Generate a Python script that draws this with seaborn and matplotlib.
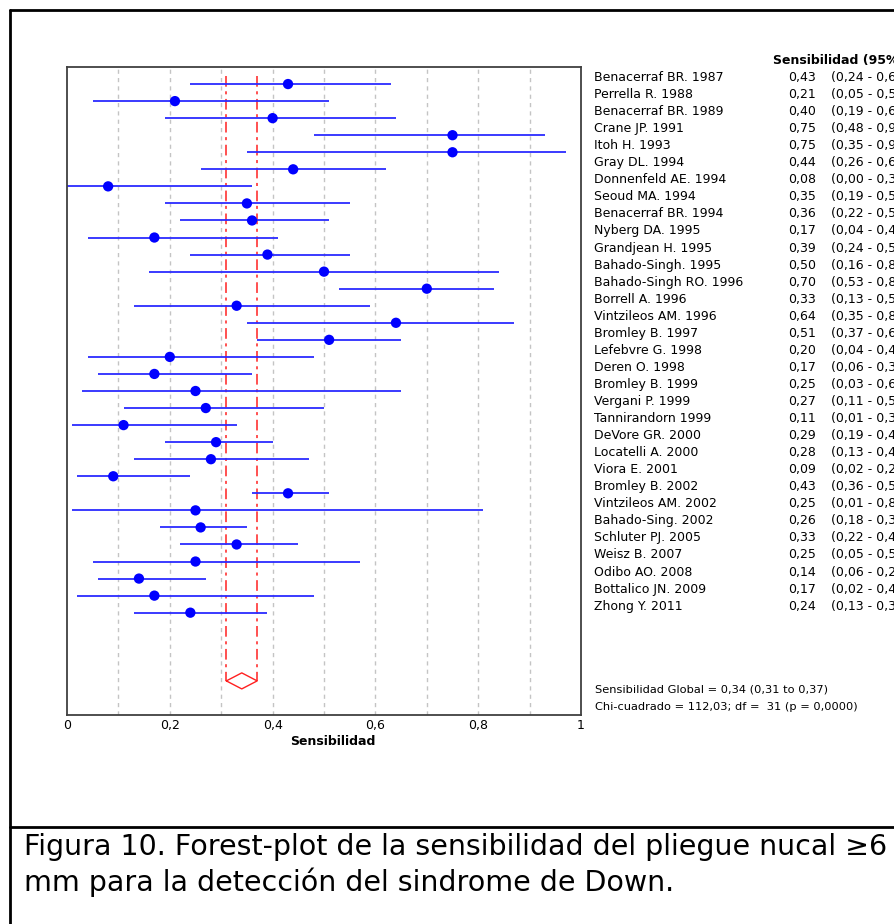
import matplotlib
matplotlib.use("Agg")
import matplotlib.pyplot as plt
import matplotlib.transforms as mtransforms
from matplotlib.lines import Line2D
import seaborn as sns
import pandas as pd

studies = ["Benacerraf BR. 1987", "Perrella R. 1988", "Benacerraf BR. 1989", "Crane JP. 1991",
           "Itoh H. 1993", "Gray DL. 1994", "Donnenfeld AE. 1994", "Seoud MA. 1994",
           "Benacerraf BR. 1994", "Nyberg DA. 1995", "Grandjean H. 1995", "Bahado-Singh. 1995",
           "Bahado-Singh RO. 1996", "Borrell A. 1996", "Vintzileos AM. 1996", "Bromley B. 1997",
           "Lefebvre G. 1998", "Deren O. 1998", "Bromley B. 1999", "Vergani P. 1999",
           "Tannirandorn 1999", "DeVore GR. 2000", "Locatelli A. 2000", "Viora E. 2001",
           "Bromley B. 2002", "Vintzileos AM. 2002", "Bahado-Sing. 2002", "Schluter PJ. 2005",
           "Weisz B. 2007", "Odibo AO. 2008", "Bottalico JN. 2009", "Zhong Y. 2011"]
sens = [0.43, 0.21, 0.40, 0.75, 0.75, 0.44, 0.08, 0.35, 0.36, 0.17, 0.39, 0.50, 0.70, 0.33,
        0.64, 0.51, 0.20, 0.17, 0.25, 0.27, 0.11, 0.29, 0.28, 0.09, 0.43, 0.25, 0.26, 0.33,
        0.25, 0.14, 0.17, 0.24]
ci_low = [0.24, 0.05, 0.19, 0.48, 0.35, 0.26, 0.00, 0.19, 0.22, 0.04, 0.24, 0.16, 0.53, 0.13,
          0.35, 0.37, 0.04, 0.06, 0.03, 0.11, 0.01, 0.19, 0.13, 0.02, 0.36, 0.01, 0.18, 0.22,
          0.05, 0.06, 0.02, 0.13]
ci_high = [0.63, 0.51, 0.64, 0.93, 0.97, 0.62, 0.36, 0.55, 0.51, 0.41, 0.55, 0.84, 0.83, 0.59,
           0.87, 0.65, 0.48, 0.36, 0.65, 0.50, 0.33, 0.40, 0.47, 0.24, 0.51, 0.81, 0.35, 0.45,
           0.57, 0.27, 0.48, 0.39]
pooled = [0.34, 0.31, 0.37]  # estimate, low, high
xtick_vals = [0, 0.2, 0.4, 0.6, 0.8, 1.0]
xtick_labels = ["0", "0,2", "0,4", "0,6", "0,8", "1"]
header = "Sensibilidad (95% CI)"
footer1 = "Sensibilidad Global = 0,34 (0,31 to 0,37)"
footer2 = "Chi-cuadrado = 112,03; df =  31 (p = 0,0000)"
caption1 = "Figura 10. Forest-plot de la sensibilidad del pliegue nucal \u22656"
caption2 = "mm para la detección del sindrome de Down."

def fmt(v):
    return f"{v:.2f}".replace(".", ",")

df = pd.DataFrame({"study": studies, "sens": sens, "lo": ci_low, "hi": ci_high})
df["row"] = range(len(df))

sns.set_theme(style="white")
plt.rcParams["font.family"] = ["DejaVu Sans"]
plt.rcParams["text.color"] = "black"
plt.rcParams["axes.labelcolor"] = "black"
plt.rcParams["xtick.color"] = "black"

W, H = 895, 924
fig = plt.figure(figsize=(W / 100, H / 100), dpi=100)
fig.patch.set_facecolor("white")

ax_l, ax_r, ax_t, ax_b = 67, 581, 67, 715
ax = fig.add_axes([ax_l / W, 1 - ax_b / H, (ax_r - ax_l) / W, (ax_b - ax_t) / H])

# grid
for gx in [0.1, 0.2, 0.3, 0.4, 0.5, 0.6, 0.7, 0.8, 0.9]:
    ax.axvline(gx, color="#c4c4c4", lw=1.0, linestyle=(0, (3, 3)), zorder=0)

# CI lines
ax.hlines(df["row"], df["lo"], df["hi"], color="#2b2bff", lw=1.3, zorder=2)
sns.scatterplot(data=df, x="sens", y="row", ax=ax, color="#0000ff", s=55,
                edgecolor="none", zorder=3, legend=False)

# pooled
diam_row = 35
ax.vlines([pooled[1], pooled[2]], -0.5, diam_row, color="#ff2020", lw=1.1,
          linestyle=(0, (7, 3, 2, 3)), zorder=1)
ax.plot([pooled[1], pooled[0], pooled[2], pooled[0], pooled[1]],
        [diam_row, diam_row - 0.47, diam_row, diam_row + 0.47, diam_row],
        color="#ff2020", lw=1.0, zorder=2)

ax.set_xlim(0, 1)
ax.set_ylim(37, -1)
ax.set_yticks([])
ax.set_xticks(xtick_vals)
ax.set_xticklabels(xtick_labels, fontsize=9)
ax.tick_params(axis="x", length=0, pad=3, colors="black")
ax.set_xlabel("Sensibilidad", fontsize=9, fontweight="bold", labelpad=2)
ax.xaxis.set_label_coords((333 - ax_l) / (ax_r - ax_l), -0.031)
ax.set_ylabel("")
for sp in ax.spines.values():
    sp.set_color("#404040")
    sp.set_linewidth(1.3)
    sp.set_visible(True)

# right-hand text
tr = mtransforms.blended_transform_factory(fig.transFigure, ax.transData)
for i, r in df.iterrows():
    yy = r["row"] - 0.18
    fig.text(594 / W, yy, r["study"], transform=tr, fontsize=9, va="baseline", ha="left")
    fig.text(788 / W, yy, fmt(r["sens"]), transform=tr, fontsize=9, va="baseline", ha="left")
    fig.text(831 / W, yy, f"({fmt(r['lo'])} - {fmt(r['hi'])})", transform=tr, fontsize=9,
             va="baseline", ha="left")
fig.text(773 / W, 1 - 64 / H, header, fontsize=9, fontweight="bold", va="baseline", ha="left")
fig.text(595 / W, 1 - 693 / H, footer1, fontsize=8.2, va="baseline", ha="left")
fig.text(595 / W, 1 - 710 / H, footer2, fontsize=8.2, va="baseline", ha="left")

# caption
cap_font = ["DejaVu Sans"]
fig.text(24 / W, 1 - 855 / H, caption1, fontsize=20.5, family=cap_font, va="baseline", ha="left")
fig.text(24 / W, 1 - 891 / H, caption2, fontsize=20.5, family=cap_font, va="baseline", ha="left")

# outer frame
def fline(x0, y0, x1, y1):
    fig.add_artist(Line2D([x0 / W, x1 / W], [1 - y0 / H, 1 - y1 / H], color="black",
                          lw=2.0, transform=fig.transFigure))
fline(10, 10, 895, 10)
fline(10, 10, 10, 924)
fline(10, 827, 895, 827)

fig.savefig("out.png", dpi=100, facecolor="white")
